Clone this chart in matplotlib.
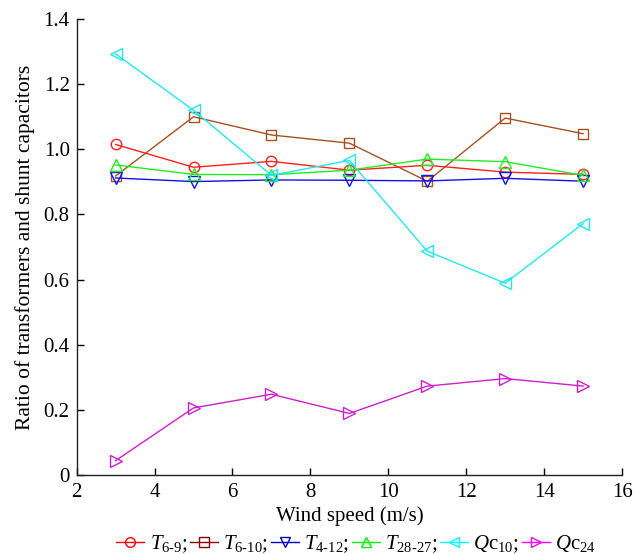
import matplotlib
matplotlib.use("Agg")
import matplotlib.pyplot as plt
from matplotlib.lines import Line2D

plt.rcParams['font.family'] = ['Liberation Serif', 'DejaVu Serif']
plt.rcParams['mathtext.fontset'] = 'custom'
plt.rcParams['mathtext.rm'] = 'Liberation Serif'
plt.rcParams['mathtext.it'] = 'Liberation Serif:italic'

wind_speed = [3, 5, 7, 9, 11, 13, 15]
t_6_9 = [1.015, 0.945, 0.963, 0.936, 0.951, 0.930, 0.923]
t_6_10 = [0.918, 1.100, 1.044, 1.019, 0.902, 1.096, 1.048]
t_4_12 = [0.912, 0.901, 0.906, 0.905, 0.903, 0.911, 0.902]
t_28_27 = [0.952, 0.923, 0.922, 0.936, 0.970, 0.962, 0.920]
qc_10 = [1.293, 1.120, 0.920, 0.966, 0.687, 0.589, 0.772]
qc_24 = [0.044, 0.206, 0.248, 0.189, 0.273, 0.296, 0.273]

labels = [r'$T_{\text{6-9}}$;', r'$T_{\text{6-10}}$;', r'$T_{\text{4-12}}$;',
          r'$T_{\text{28-27}}$;', r'$Q\mathrm{c}_{10}$;', r'$Q\mathrm{c}_{24}$']
series = [t_6_9, t_6_10, t_4_12, t_28_27, qc_10, qc_24]
markers = ['o', 's', 'v', '^', '<', '>']
line_colors = ['#FF2020', '#A8501E', '#1010F0', '#20EE20', '#20E8F0', '#CC20CC']
legend_colors = ['#FF0000', '#8B0000', '#0000CC', '#00EE00', '#00FFFF', '#FF00FF']
msizes = [7.5, 7, 8, 8, 8.5, 8.5]

fig = plt.figure(figsize=(6.44, 5.54), dpi=100)
ax = fig.add_axes([0.119, 0.1426, 0.847, 0.823])

for ys, m, c, ms in zip(series, markers, line_colors, msizes):
    ax.plot(wind_speed, ys, color=c, marker=m, ms=ms, mfc='none', mec=c,
            mew=1.0, lw=1.0)

ax.set_xlim(2, 16)
ax.set_ylim(0, 1.4)
ax.set_xticks(range(2, 17, 2))
ax.set_yticks([0, 0.2, 0.4, 0.6, 0.8, 1.0, 1.2, 1.4])
ax.set_yticklabels(['0', '0.2', '0.4', '0.6', '0.8', '1.0', '1.2', '1.4'])
ax.tick_params(direction='in', length=5, width=1, labelsize=15, colors='black')
ax.tick_params(axis='x', pad=6)
ax.tick_params(axis='y', pad=5)
ax.spines['top'].set_visible(False)
ax.spines['right'].set_visible(False)
for s in ('left', 'bottom'):
    ax.spines[s].set_color('#222222')
    ax.spines[s].set_linewidth(1.0)

ax.set_xlabel('Wind speed (m/s)', fontsize=15, labelpad=3)
ax.set_ylabel('Ratio of transformers and shunt capacitors', fontsize=15.5, labelpad=6)

handles = [Line2D([], [], color=c, marker=m, ms=7, mfc='none', mec=c, lw=1.0)
           for m, c in zip(markers, legend_colors)]
fig.legend(handles, labels, loc='lower center', bbox_to_anchor=(0.553, -0.02),
           ncol=6, frameon=False, fontsize=15, handlelength=1.35,
           handletextpad=0.25, columnspacing=0.12, borderaxespad=0.1)

fig.savefig('out.png', dpi=100)
